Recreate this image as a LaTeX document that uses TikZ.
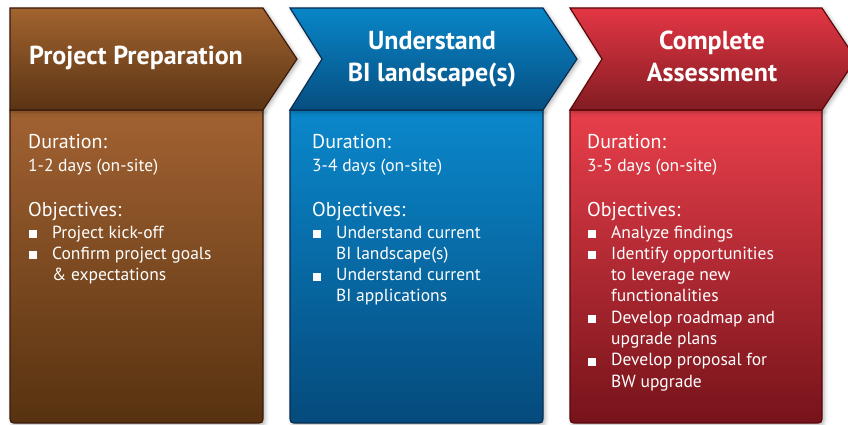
\documentclass[tikz,border=0pt]{standalone}
\usepackage{fontspec}
\setmainfont{PT Sans}
\usetikzlibrary{shadows.blur}
\definecolor{brTop}{HTML}{A2632F}
\definecolor{brBot}{HTML}{5A3414}
\definecolor{brBodyTop}{HTML}{A26232}
\definecolor{brBodyBot}{HTML}{573210}
\definecolor{brLine}{HTML}{3B1A0A}
\definecolor{blTop}{HTML}{0886C8}
\definecolor{blBot}{HTML}{074E80}
\definecolor{blBodyTop}{HTML}{0A88CC}
\definecolor{blBodyBot}{HTML}{054A7C}
\definecolor{blLine}{HTML}{0A2C50}
\definecolor{rdTop}{HTML}{E43644}
\definecolor{rdBot}{HTML}{821C22}
\definecolor{rdBodyTop}{HTML}{E93F4B}
\definecolor{rdBodyBot}{HTML}{76131A}
\definecolor{rdLine}{HTML}{5A0808}
\newcommand{\bitem}[1]{\makebox[23pt][l]{\rule{8pt}{8pt}}#1}
\newcommand{\bcont}[1]{\hspace*{23pt}#1}
\tikzset{
  shp/.style={line width=1.2pt, line join=miter,
    blur shadow={shadow xshift=2pt, shadow yshift=-2pt, shadow blur radius=4pt, shadow opacity=30}},
  head/.style={text=white, inner sep=0pt, anchor=base, font=\bfseries\fontsize{26}{32}\selectfont},
  lab/.style={text=white, inner sep=0pt, anchor=base west, font=\fontsize{20}{24}\selectfont},
  val/.style={text=white, inner sep=0pt, anchor=base west, font=\fontsize{17.5}{21.3}\selectfont},
  lst/.style={text=white, inner sep=0pt, anchor=base west, align=left, font=\fontsize{17.5}{21.3}\selectfont},
}
\begin{document}
\begin{tikzpicture}[x=1pt,y=-1pt]
\useasboundingbox (0,0) rectangle (848,425);
\clip (0,0) rectangle (848,425);
% ---- bodies
\path[shp, draw=brLine, top color=brBodyTop, bottom color=brBodyBot]
  (10,110) -- (10,415) .. controls (10,423) .. (18,423) -- (255,423) .. controls (263,423) .. (263,415) -- (263,110) -- cycle;
\path[shp, draw=blLine, top color=blBodyTop, bottom color=blBodyBot]
  (290,110) -- (290,415) .. controls (290,423) .. (298,423) -- (535,423) .. controls (543,423) .. (543,415) -- (543,110) -- cycle;
\path[shp, draw=rdLine, top color=rdBodyTop, bottom color=rdBodyBot]
  (570,110) -- (570,415) .. controls (570,423) .. (578,423) -- (814,423) .. controls (822,423) .. (822,415) -- (822,110) -- cycle;
% ---- headers
\path[shp, draw=brLine, top color=brTop, bottom color=brBot]
  (10,8) -- (263,8) -- (297,59) -- (263,110) -- (10,110) -- cycle;
\path[shp, draw=blLine, top color=blTop, bottom color=blBot]
  (290,8) -- (543,8) -- (577,59) -- (543,110) -- (290,110) -- (322,59) -- cycle;
\path[shp, draw=rdLine, top color=rdTop, bottom color=rdBot]
  (570,8) -- (822,8) -- (856,59) -- (822,110) -- (570,110) -- (602,59) -- cycle;
% ---- header texts
\node[head] (h1) at (136,65) {Project Preparation};
\node[head] (h2a) at (432,50) {Understand};
\node[head] (h2b) at (432,82) {BI landscape(s)};
\node[head] (h3a) at (712,50) {Complete};
\node[head] (h3b) at (712,82) {Assessment};
% ---- column 1 (list nodes anchored at the baseline of their last line)
\node[lab] (d1) at (28,149) {Duration:};
\node[val] (v1) at (28,171) {1-2 days (on-site)};
\node[lab] (o1) at (28,216) {Objectives:};
\node[lst] (l1) at (29,280.6) {\bitem{Project kick-off}\\ \bitem{Confirm project goals}\\ \bcont{\& expectations}};
% ---- column 2
\node[lab] (d2) at (312,149) {Duration:};
\node[val] (v2) at (312,171) {3-4 days (on-site)};
\node[lab] (o2) at (312,216) {Objectives:};
\node[lst] (l2) at (313,301.9) {\bitem{Understand current}\\ \bcont{BI landscape(s)}\\ \bitem{Understand current}\\ \bcont{BI applications}};
% ---- column 3
\node[lab] (d3) at (587,149) {Duration:};
\node[val] (v3) at (587,171) {3-5 days (on-site)};
\node[lab] (o3) at (587,216) {Objectives:};
\node[lst] (l3) at (588,387.1) {\bitem{Analyze findings}\\ \bitem{Identify opportunities}\\ \bcont{to leverage new}\\ \bcont{functionalities}\\ \bitem{Develop roadmap and}\\ \bcont{upgrade plans}\\ \bitem{Develop proposal for}\\ \bcont{BW upgrade}};
\end{tikzpicture}
\end{document}
